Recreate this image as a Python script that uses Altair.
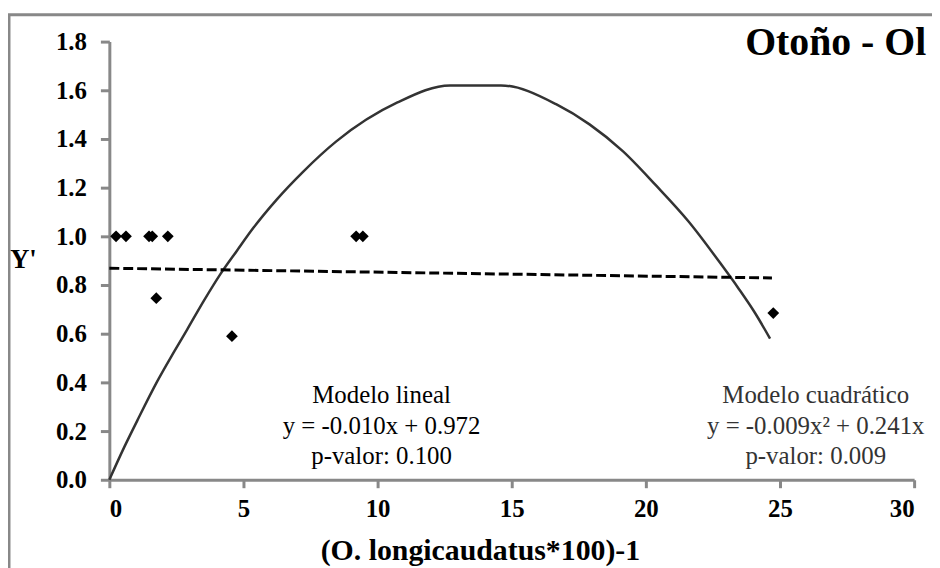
import altair as alt
import pandas as pd

# Observed points
pt_x = [0.25, 0.62, 1.48, 1.60, 2.18, 1.75, 4.57, 9.20, 9.45, 24.75]
pt_y = [1.00, 1.00, 1.00, 1.00, 1.00, 0.746, 0.59, 1.00, 1.00, 0.685]

# Linear model line (dashed)
lin_x = [0.0, 24.7]
lin_y = [0.869, 0.829]

# Quadratic model curve
quad_x = [0.0, 0.56, 1.05, 1.79, 2.41, 2.9, 3.52, 4.14, 4.75, 5.37, 6.23,
          7.22, 8.46, 10.74, 12.7, 14.6, 16.67, 17.9, 19.14, 20.37, 21.6,
          22.84, 23.46, 24.07, 24.63]
quad_y = [0.0, 0.135, 0.245, 0.405, 0.525, 0.617, 0.735, 0.845, 0.94, 1.035, 1.15,
          1.265, 1.39, 1.55, 1.62, 1.62, 1.542, 1.46, 1.35, 1.21, 1.06,
          0.88, 0.785, 0.685, 0.58]

title_text = "Otoño - Ol"
x_title = "(O. longicaudatus*100)-1"
y_title = "Y'"
lin_text = ["Modelo lineal", "y = -0.010x + 0.972", "p-valor: 0.100"]
quad_text = ["Modelo cuadrático", "y = -0.009x² + 0.241x", "p-valor: 0.009"]

FONT = "Liberation Serif, Times New Roman, DejaVu Serif, serif"
W, H = 810, 441

pts = pd.DataFrame({"x": pt_x, "y": pt_y})
lin = pd.DataFrame({"x": lin_x, "y": lin_y})
quad = pd.DataFrame({"x": quad_x, "y": quad_y})

xscale = alt.Scale(domain=[0, 30], nice=False, zero=False)
yscale = alt.Scale(domain=[0, 1.8], nice=False)

xaxis = alt.Axis(values=[0, 5, 10, 15, 20, 25, 30], format="d", grid=False,
                 title=x_title, titleX=373, titleY=80, titleAlign="center",
                 titleBaseline="alphabetic", titleFont=FONT, titleFontSize=30,
                 titleFontWeight="bold", titleColor="black",
                 labelFont=FONT, labelFontSize=25, labelFontWeight="bold",
                 labelColor="black", labelPadding=9, tickSize=8, tickWidth=3,
                 tickColor="#888888", domainColor="#888888", domainWidth=3)
yaxis = alt.Axis(values=[0, 0.2, 0.4, 0.6, 0.8, 1.0, 1.2, 1.4, 1.6, 1.8],
                 format=".1f", grid=False,
                 title=y_title, titleAngle=0, titleX=-87, titleY=219,
                 titleAlign="center", titleBaseline="middle", titleFont=FONT,
                 titleFontSize=27, titleFontWeight="bold", titleColor="black",
                 labelFont=FONT, labelFontSize=25, labelFontWeight="bold",
                 labelColor="black", labelPadding=14, tickSize=9, tickWidth=3,
                 tickColor="#888888", domainColor="#888888", domainWidth=3)

frame = alt.Chart(pd.DataFrame({"k": [0]})).mark_rect(
    fill=None, stroke="#888888", strokeWidth=3
).encode(x=alt.value(-101), x2=alt.value(840), y=alt.value(-27), y2=alt.value(560))

quad_line = alt.Chart(quad).mark_line(
    color="#333333", strokeWidth=2.5, interpolate="monotone"
).encode(x=alt.X("x:Q", scale=xscale, axis=xaxis),
         y=alt.Y("y:Q", scale=yscale, axis=yaxis))

lin_line = alt.Chart(lin).mark_line(
    color="black", strokeWidth=3, strokeDash=[10, 4]
).encode(x=alt.X("x:Q", scale=xscale), y=alt.Y("y:Q", scale=yscale))

points = alt.Chart(pts).mark_point(
    shape="diamond", filled=True, color="black", size=140, opacity=1
).encode(x=alt.X("x:Q", scale=xscale), y=alt.Y("y:Q", scale=yscale))


def text_lines(lines, cx, color):
    layers = []
    for i, line in enumerate(lines):
        df = pd.DataFrame({"t": [line]})
        layers.append(alt.Chart(df).mark_text(
            font=FONT, fontSize=25, color=color, align="center", baseline="middle"
        ).encode(text="t:N", x=alt.value(cx), y=alt.value(356 + 30.5 * i)))
    return layers


lin_layers = text_lines(lin_text, 274, "black")
quad_layers = text_lines(quad_text, 711, "#333333")

title_mark = alt.Chart(pd.DataFrame({"t": [title_text]})).mark_text(
    font=FONT, fontSize=40, fontWeight="bold", color="black",
    align="left", baseline="alphabetic"
).encode(text="t:N", x=alt.value(640), y=alt.value(13))

chart = alt.layer(frame, quad_line, lin_line, points, *lin_layers, *quad_layers,
                  title_mark).properties(
    width=W, height=H,
    autosize=alt.AutoSizeParams(type="none"),
    padding={"left": 102, "top": 32, "right": 18, "bottom": 87},
).configure_view(stroke=None)

chart.save("out.html", embed_options={"renderer": "svg", "actions": False})
